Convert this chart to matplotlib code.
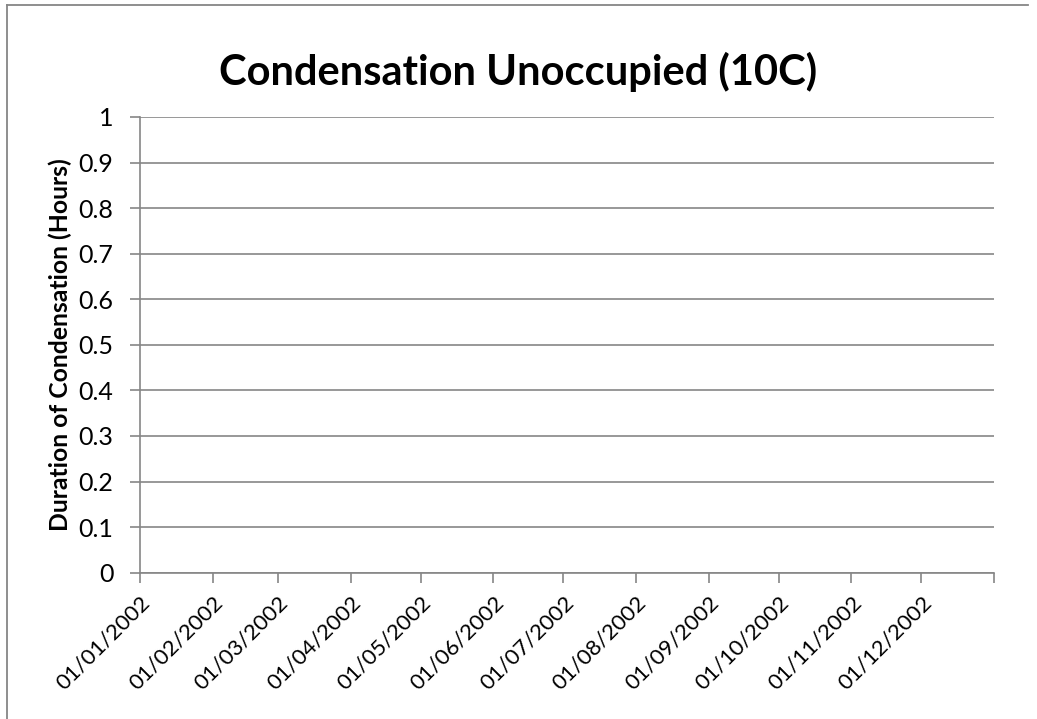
import matplotlib
matplotlib.use("Agg")
import matplotlib.pyplot as plt
from matplotlib.lines import Line2D
import datetime as dt

# ---- data ----
title = "Condensation Unoccupied (10C)"
y_label = "Duration of Condensation (Hours)"
tick_dates = ["01/01/2002", "01/02/2002", "01/03/2002", "01/04/2002",
              "01/05/2002", "01/06/2002", "01/07/2002", "01/08/2002",
              "01/09/2002", "01/10/2002", "01/11/2002", "01/12/2002"]
axis_end = "01/01/2003"
y_ticks = [0, 0.1, 0.2, 0.3, 0.4, 0.5, 0.6, 0.7, 0.8, 0.9, 1]
y_tick_labels = ["0", "0.1", "0.2", "0.3", "0.4", "0.5", "0.6", "0.7", "0.8", "0.9", "1"]
# the series has no points
series_dates = []
series_hours = []

plt.rcParams['font.family'] = ['Lato', 'DejaVu Sans']

def parse(s):
    return dt.datetime.strptime(s, "%d/%m/%Y")

fig = plt.figure(figsize=(10.37, 7.19), dpi=100)
ax = fig.add_axes([140/1037, 1 - 572.7/719, (994-140)/1037, (572.7-117)/719])

grey = "#868686"
ax.plot([parse(d) for d in series_dates], series_hours, color="#4F81BD")

ax.set_xlim(parse(tick_dates[0]), parse(axis_end))
ax.set_ylim(0, 1)

xt = [parse(d) for d in tick_dates] + [parse(axis_end)]
ax.set_xticks(xt)
ax.set_xticklabels(tick_dates + [""], rotation=45, ha="right", va="top",
                   rotation_mode="anchor", fontsize=16)
ax.set_yticks(y_ticks)
ax.set_yticklabels(y_tick_labels, fontsize=18)

ax.grid(axis="y", color=grey, linewidth=1.2)
ax.set_axisbelow(True)
for side in ["top", "right"]:
    ax.spines[side].set_visible(False)
for side in ["left", "bottom"]:
    ax.spines[side].set_color(grey)
    ax.spines[side].set_linewidth(1.2)
ax.tick_params(axis="x", direction="out", length=7, width=1.2, color=grey, pad=7)
ax.tick_params(axis="y", direction="out", length=7, width=1.2, color=grey, pad=12)

ax.set_ylabel(y_label, fontsize=17.8, fontweight="bold")
ax.yaxis.set_label_coords(-(140 - 72)/854, 0.5)
fig.text(518/1037, 1 - 72/719, title, ha="center", va="center",
         fontsize=30, fontweight="bold")

# chart frame (partially visible)
fig.add_artist(Line2D([7/1037, 1028/1037], [1 - 5/719, 1 - 5/719],
                      transform=fig.transFigure, color=grey, linewidth=1.3))
fig.add_artist(Line2D([7/1037, 7/1037], [0, 1 - 5/719],
                      transform=fig.transFigure, color=grey, linewidth=1.3))

fig.savefig("out.png", dpi=100)
